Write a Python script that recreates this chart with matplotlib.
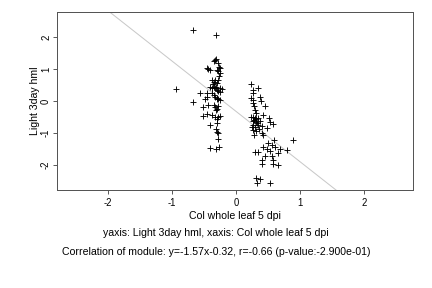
import matplotlib
matplotlib.use("Agg")
import matplotlib.pyplot as plt
import numpy as np

# left group (Col whole leaf 5 dpi vs Light 3day hml)
x_left = [-0.68, -0.32, -0.94, -0.68,
          -0.33, -0.31, -0.35, -0.28, -0.27, -0.25, -0.30, -0.46, -0.43, -0.41,
          -0.28, -0.25, -0.38, -0.35, -0.33, -0.28, -0.30, -0.41, -0.38, -0.35,
          -0.33, -0.25, -0.22, -0.30, -0.28, -0.25, -0.56, -0.46, -0.38, -0.35,
          -0.33, -0.30, -0.28, -0.25, -0.48, -0.46, -0.51, -0.43, -0.35, -0.33,
          -0.30, -0.28, -0.31, -0.46, -0.51, -0.38, -0.33, -0.30, -0.28, -0.25,
          -0.41, -0.30, -0.31, -0.29, -0.28, -0.28, -0.40, -0.31, -0.26, -0.32,
          -0.27, -0.36, -0.30]
y_left = [2.22, 2.07, 0.37, -0.03,
          1.28, 1.32, 1.24, 1.20, 1.07, 1.03, 0.97, 1.03, 1.00, 0.97,
          0.93, 0.87, 0.66, 0.60, 0.66, 0.66, 0.55, 0.45, 0.41, 0.45,
          0.41, 0.41, 0.38, 0.35, 0.30, 0.27, 0.24, 0.24, 0.24, 0.19,
          0.13, 0.11, 0.05, 0.03, 0.08, 0.13, -0.18, -0.13, -0.13, -0.18,
          -0.24, -0.15, -0.28, -0.39, -0.46, -0.44, -0.49, -0.55, -0.49, -0.47,
          -0.75, -0.70, -0.86, -0.96, -0.99, -1.17, -1.46, -1.50, -1.44, 0.45,
          0.78, 0.52, 0.08]

# right group
x_right = [0.23, 0.27, 0.35, 0.26, 0.24, 0.27, 0.375, 0.39, 0.26, 0.28,
           0.30, 0.46, 0.24, 0.27, 0.30, 0.32, 0.35, 0.27, 0.31, 0.375,
           0.51, 0.53, 0.58, 0.26, 0.30, 0.35, 0.40, 0.48, 0.27, 0.32,
           0.40, 0.28, 0.43, 0.59, 0.89, 0.50, 0.56, 0.61, 0.48, 0.53,
           0.69, 0.80, 0.30, 0.35, 0.43, 0.46, 0.56, 0.66, 0.40, 0.58,
           0.40, 0.58, 0.65, 0.32, 0.37, 0.33, 0.53, 0.29, 0.33, 0.36,
           0.42, 0.31, 0.25]
y_right = [0.53, 0.34, 0.40, 0.25, 0.11, 0.03, 0.13, -0.01, -0.07, -0.15,
           -0.28, -0.14, -0.49, -0.51, -0.54, -0.56, -0.54, -0.62, -0.65, -0.62,
           -0.54, -0.65, -0.72, -0.75, -0.80, -0.75, -0.78, -0.85, -0.91, -0.93,
           -1.01, -1.06, -1.06, -1.22, -1.22, -1.32, -1.38, -1.43, -1.51, -1.55,
           -1.51, -1.53, -1.58, -1.58, -1.44, -1.72, -1.72, -1.63, -1.83, -1.85,
           -1.97, -1.97, -2.00, -2.41, -2.43, -2.57, -2.55, -0.60, -0.70, -0.88,
           -0.45, -0.36, -0.80]

x_vals = x_left + x_right
y_vals = y_left + y_right

slope = -1.57
intercept = -0.32
xticks = [-2, -1, 0, 1, 2]
yticks = [-2, -1, 0, 1, 2]

plt.rcParams['font.family'] = ['Liberation Sans', 'DejaVu Sans']
fs = 10.5

fig = plt.figure(figsize=(6, 4), dpi=72)
ax = fig.add_axes([0.132, 0.340, 0.824, 0.618])

xs = np.array([-3, 3])
ax.plot(xs, slope * xs + intercept, color='#c8c8c8', lw=1, zorder=1)
ax.scatter(x_vals, y_vals, marker='+', s=30, color='black', linewidths=0.9, zorder=2)

ax.set_xlim(-2.8, 2.77)
ax.set_ylim(-2.78, 2.78)
ax.set_xticks(xticks)
ax.set_yticks(yticks)
ax.set_xticklabels([str(t) for t in xticks])
ax.set_yticklabels([str(t) for t in yticks], rotation=90, va='center')
ax.tick_params(direction='out', length=4, width=0.8, labelsize=9.5, color='#333333')
ax.tick_params(axis='x', pad=4)
ax.tick_params(axis='y', pad=2)
for s in ax.spines.values():
    s.set_color('#555555')
    s.set_linewidth(1)

ax.set_xlabel('Col whole leaf 5 dpi', fontsize=fs, labelpad=3)
ax.set_ylabel('Light 3day hml', fontsize=fs, labelpad=1)

fig.text(0.5, 1 - 233 / 288, 'yaxis: Light 3day hml, xaxis: Col whole leaf 5 dpi',
         ha='center', va='center', fontsize=fs)
fig.text(0.5, 1 - 252 / 288, 'Correlation of module: y=-1.57x-0.32, r=-0.66 (p-value:-2.900e-01)',
         ha='center', va='center', fontsize=fs)

fig.savefig('out.png', dpi=72)
